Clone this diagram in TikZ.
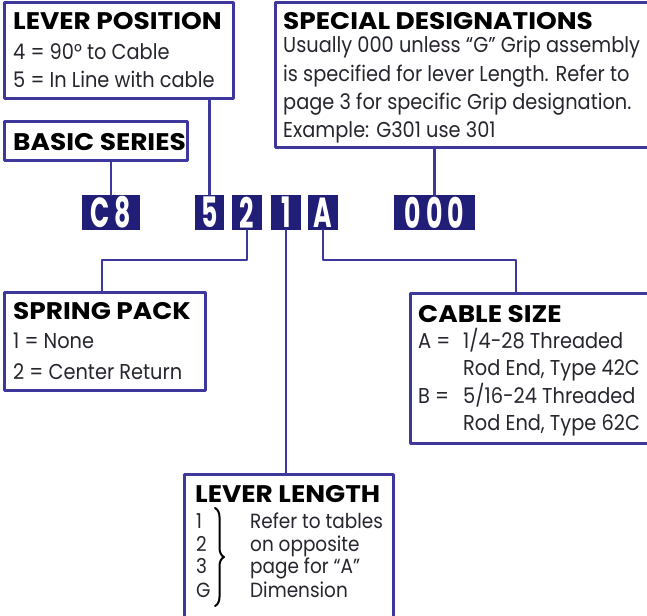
\documentclass[tikz,border=0pt]{standalone}
\usepackage{fontspec}
\setmainfont{Poppins}[FakeStretch=0.9]
\newfontfamily\headfont{Poppins}[FakeStretch=1.1]
\newfontfamily\codefont{Poppins}[FakeStretch=0.6]
\usetikzlibrary{positioning}
\usetikzlibrary{decorations.pathreplacing}
\definecolor{frameblue}{RGB}{62,56,156}
\definecolor{codeblue}{RGB}{32,30,118}
\definecolor{inkgray}{RGB}{38,38,46}

\tikzset{
  frame/.style={draw=frameblue, line width=3pt, fill=white, inner sep=0pt, outer sep=0pt, anchor=north west},
  codebox/.style={fill=codeblue, text=white, inner sep=0pt, outer sep=0pt, minimum height=35pt,
    font=\codefont\fontsize{42}{42}\selectfont\bfseries},
  head/.style={anchor=base west, inner sep=0pt, font=\headfont\fontsize{24}{24}\selectfont\bfseries},
  entry/.style={anchor=base west, inner sep=0pt, text=inkgray, font=\fontsize{21.5}{21.5}\selectfont},
  link/.style={draw=frameblue, line width=2.5pt}
}

\begin{document}
\begin{tikzpicture}[line cap=round, line join=round, x=1pt, y=-1pt]
\useasboundingbox (0,0) rectangle (647,615);
\clip (0,0) rectangle (647,615);

% boxes
\node[frame, minimum width=229pt, minimum height=96pt] (levpos) at (4,3) {};
\node[frame, minimum width=183pt, minimum height=39pt] (basic) at (4,121) {};
\node[frame, minimum width=390pt, minimum height=144pt] (special) at (275,3) {};
\node[frame, minimum width=201pt, minimum height=98pt] (spring) at (4,292) {};
\node[frame, minimum width=255pt, minimum height=150pt] (cable) at (410,293) {};
\node[frame, minimum width=209pt, minimum height=160pt] (levlen) at (184,474) {};

% part number
\node[codebox, minimum width=58pt] (c8) at (111,212.5) {C\hspace{5pt}8};
\node[codebox, minimum width=29pt] (pos5) at (209.5,212.5) {5};
\node[codebox, minimum width=30pt] (dig2) at (247,212.5) {2};
\node[codebox, minimum width=30pt] (dig1) at (286,212.5) {1};
\node[codebox, minimum width=30pt] (digA) at (323,212.5) {A};
\node[codebox, minimum width=81pt] (d000) at (434.5,212.5) {0\hspace{5pt}0\hspace{5pt}0};

% connectors
\coordinate (bend) at (0,260);
\draw[link] (levpos.south -| pos5) -- (pos5.north);
\draw[link] (basic.south -| c8) -- (c8.north);
\draw[link] (special.south -| d000) -- (d000.north);
\draw[link] (dig2.south) -- (dig2.south |- bend) -| ([xshift=98pt]spring.north west);
\draw[link] (dig1.south) -- (dig1.south |- levlen.north);
\draw[link] (digA.south) -- (digA.south |- bend) -| ([xshift=106pt]cable.north west);

% texts
\node[head] (levposhead) at (13,30) {LEVER POSITION};
\node[entry] (levpos4) at (13,60) {4 = 90° to Cable};
\node[entry] (levpos5) at (13,88) {5 = In Line with cable};

\node[head] (basichead) at (13,150) {BASIC SERIES};

\node[head] (specialhead) at (283,30) {SPECIAL DESIGNATIONS};
\node[entry] (special1) at (283,53) {Usually 000 unless “G” Grip assembly};
\node[entry] (special2) at (283,82) {is specified for lever Length. Refer to};
\node[entry] (special3) at (283,110) {page 3 for specific Grip designation.};
\node[entry] (special4) at (283,137) {Example: G301 use 301};

\node[head] (springhead) at (13,319) {SPRING PACK};
\node[entry] (spring1) at (13,348) {1 = None};
\node[entry] (spring2) at (13,379) {2 = Center Return};

\node[head] (cablehead) at (418,322) {CABLE SIZE};
\node[entry] (cableA) at (418,348) {A =};
\node[entry] (cableA1) at (463,348) {1/4-28 Threaded};
\node[entry] (cableA2) at (463,375) {Rod End, Type 42C};
\node[entry] (cableB) at (418,403) {B =};
\node[entry] (cableB1) at (463,403) {5/16-24 Threaded};
\node[entry] (cableB2) at (463,430) {Rod End, Type 62C};

\node[head] (levlenhead) at (195,502) {LEVER LENGTH};
\foreach \k/\y in {1/528, 2/551, 3/573, G/597}
  \node[entry, font=\fontsize{20.5}{20.5}\selectfont] (len\k) at (196,\y) {\k};
\draw[line width=2pt, decorate, decoration={brace, amplitude=9pt}] (215,508) -- (215,606);
\foreach \n/\y/\t in {1/528/Refer to tables, 2/551/on opposite, 3/573/page for “A”, 4/597/Dimension}
  \node[entry, font=\fontsize{20.5}{20.5}\selectfont] (lennote\n) at (250,\y) {\t};
\end{tikzpicture}
\end{document}
